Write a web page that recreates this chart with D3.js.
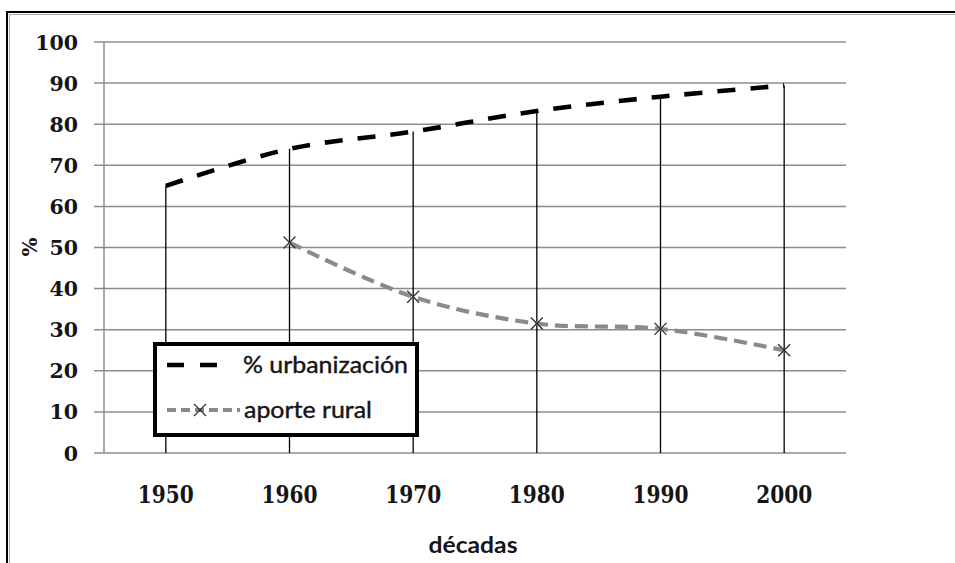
<!DOCTYPE html>
<html>
<head>
<meta charset="utf-8">
<script src="https://cdn.jsdelivr.net/npm/d3@7.9.0/dist/d3.min.js"></script>
<style>
  body { margin: 0; background: #fff; }
  svg { display: block; }
</style>
</head>
<body>
<svg id="chart" width="955" height="563"></svg>
<script>
const decades = ["1950", "1960", "1970", "1980", "1990", "2000"];
const urbanizacion = [65, 74, 78.2, 83.2, 86.7, 89.4];
const ruralDecades = ["1960", "1970", "1980", "1990", "2000"];
const aporteRural = [51.2, 38, 31.5, 30.2, 25];
const yTicks = [0, 10, 20, 30, 40, 50, 60, 70, 80, 90, 100];

const svg = d3.select("#chart");

// outer frame of the picture
svg.append("rect")
  .attr("x", 7).attr("y", 12)
  .attr("width", 980).attr("height", 600)
  .attr("fill", "none").attr("stroke", "#000").attr("stroke-width", 2);
svg.append("rect")
  .attr("x", 9.5).attr("y", 14.5)
  .attr("width", 980).attr("height", 600)
  .attr("fill", "none").attr("stroke", "#aaa").attr("stroke-width", 1);

const x = d3.scalePoint().domain(decades).range([104, 846]).padding(0.5);
const y = d3.scaleLinear().domain([0, 100]).range([453, 42]);

const serif = "'DejaVu Serif', serif";
const sans = "Lato, sans-serif";

// horizontal gridlines
svg.append("g")
  .selectAll("line")
  .data(yTicks)
  .join("line")
  .attr("x1", 94).attr("x2", 846)
  .attr("y1", d => y(d)).attr("y2", d => y(d))
  .attr("stroke", "#8c8c8c").attr("stroke-width", 1.5);

// y axis line
svg.append("line")
  .attr("x1", 104).attr("x2", 104)
  .attr("y1", y(100)).attr("y2", y(0))
  .attr("stroke", "#8c8c8c").attr("stroke-width", 1.5);

// y tick labels
svg.append("g")
  .selectAll("text")
  .data(yTicks)
  .join("text")
  .attr("x", 78).attr("y", d => y(d) + 7.5)
  .attr("text-anchor", "end")
  .attr("font-family", serif)
  .attr("font-weight", "bold")
  .attr("font-size", 20.5)
  .attr("fill", "#151515")
  .text(d => d);

// x tick labels
svg.append("g")
  .selectAll("text")
  .data(decades)
  .join("text")
  .attr("x", d => x(d)).attr("y", 503)
  .attr("text-anchor", "middle")
  .attr("font-family", serif)
  .attr("font-weight", "bold")
  .attr("font-size", 24.5)
  .attr("textLength", 56)
  .attr("lengthAdjust", "spacingAndGlyphs")
  .attr("fill", "#151515")
  .text(d => d);

// axis titles
svg.append("text")
  .attr("x", 473).attr("y", 553)
  .attr("text-anchor", "middle")
  .attr("font-family", sans)
  .attr("font-weight", "bold")
  .attr("font-size", 22)
  .attr("textLength", 89)
  .attr("lengthAdjust", "spacingAndGlyphs")
  .attr("fill", "#151515")
  .text("décadas");

svg.append("text")
  .attr("transform", "translate(37,247) rotate(-90)")
  .attr("text-anchor", "middle")
  .attr("font-family", serif)
  .attr("font-weight", "bold")
  .attr("font-size", 20)
  .attr("fill", "#151515")
  .text("%");

// drop lines from the urbanization series
svg.append("g")
  .selectAll("line")
  .data(decades)
  .join("line")
  .attr("x1", d => x(d)).attr("x2", d => x(d))
  .attr("y1", (d, i) => y(urbanizacion[i])).attr("y2", y(0))
  .attr("stroke", "#000").attr("stroke-width", 1.3);

const line = d3.line().curve(d3.curveCatmullRom.alpha(0.5));

// % urbanización
svg.append("path")
  .attr("d", line(decades.map((d, i) => [x(d), y(urbanizacion[i])])))
  .attr("fill", "none")
  .attr("stroke", "#000")
  .attr("stroke-width", 4.6)
  .attr("stroke-dasharray", "18,15");

// aporte rural
svg.append("path")
  .attr("d", line(ruralDecades.map((d, i) => [x(d), y(aporteRural[i])])))
  .attr("fill", "none")
  .attr("stroke", "#8a8a8a")
  .attr("stroke-width", 4.2)
  .attr("stroke-dasharray", "13,7");

function cross(g, cx, cy, r) {
  g.append("path")
    .attr("d", `M${cx - r},${cy - r}L${cx + r},${cy + r}M${cx - r},${cy + r}L${cx + r},${cy - r}`)
    .attr("stroke", "#333").attr("stroke-width", 1.3).attr("fill", "none");
}
const markers = svg.append("g");
ruralDecades.forEach((d, i) => cross(markers, x(d), y(aporteRural[i]), 6));

// legend
const lg = svg.append("g");
lg.append("rect")
  .attr("x", 155).attr("y", 344)
  .attr("width", 262).attr("height", 91)
  .attr("fill", "#fff").attr("stroke", "#000").attr("stroke-width", 4);
lg.append("line")
  .attr("x1", 167).attr("x2", 221).attr("y1", 365).attr("y2", 365)
  .attr("stroke", "#000").attr("stroke-width", 4.6).attr("stroke-dasharray", "17,16");
lg.append("line")
  .attr("x1", 167).attr("x2", 240).attr("y1", 410).attr("y2", 410)
  .attr("stroke", "#8a8a8a").attr("stroke-width", 4.2).attr("stroke-dasharray", "9,5");
cross(lg, 200, 410, 6);
lg.append("text")
  .attr("x", 243).attr("y", 373)
  .attr("font-family", sans).attr("font-size", 23).attr("fill", "#151515")
  .attr("stroke", "#151515").attr("stroke-width", 0.4)
  .attr("textLength", 165).attr("lengthAdjust", "spacingAndGlyphs")
  .text("% urbanización");
lg.append("text")
  .attr("x", 244).attr("y", 418)
  .attr("font-family", sans).attr("font-size", 23).attr("fill", "#151515")
  .attr("stroke", "#151515").attr("stroke-width", 0.4)
  .attr("textLength", 128).attr("lengthAdjust", "spacingAndGlyphs")
  .text("aporte rural");
</script>
</body>
</html>
